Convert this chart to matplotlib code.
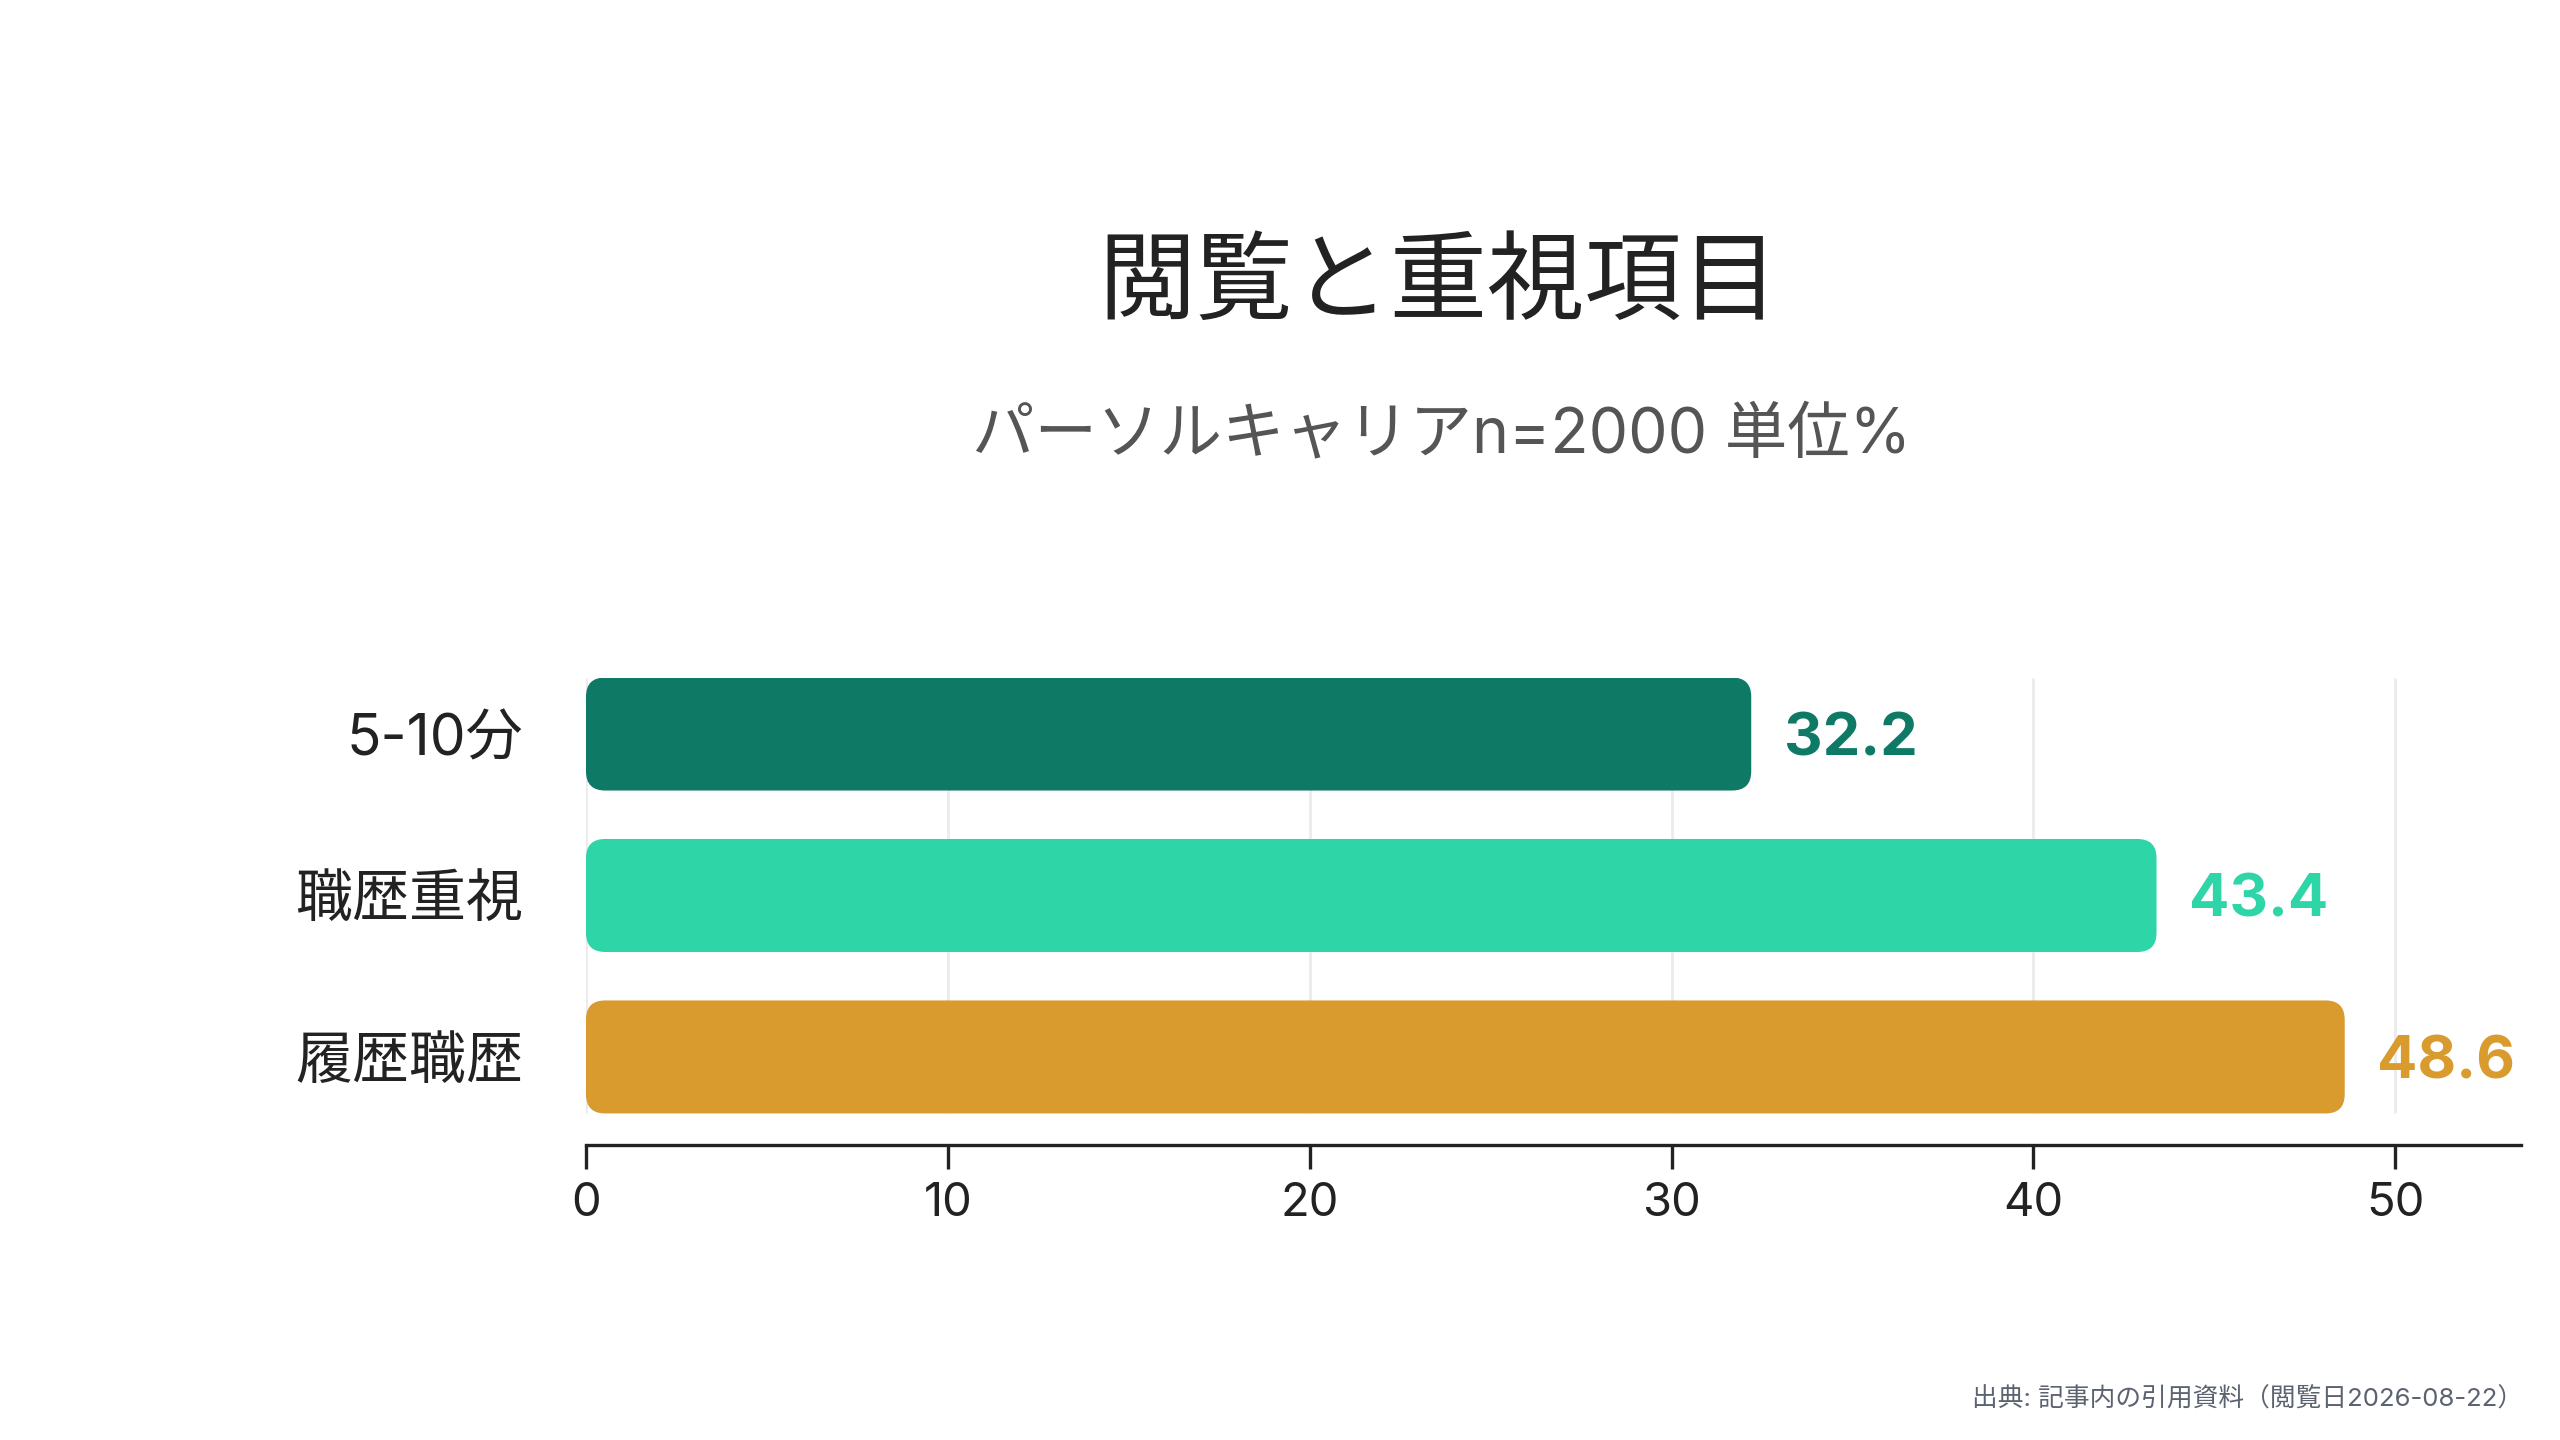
import matplotlib
matplotlib.use("Agg")
import matplotlib.pyplot as plt
from matplotlib.patches import FancyBboxPatch

FAM = ['Inter', 'Noto Sans CJK JP', 'DejaVu Sans']
plt.rcParams['font.family'] = FAM

title = "閲覧と重視項目"
subtitle = "パーソルキャリアn=2000 単位%"
source = "出典: 記事内の引用資料（閲覧日2026-08-22）"
categories = ["5-10分", "職歴重視", "履歴職歴"]
values = [32.2, 43.4, 48.6]
colors = ["#0E7A66", "#2ED5A7", "#D99A2E"]
xticks = [0, 10, 20, 30, 40, 50]

fig = plt.figure(figsize=(25.6, 14.4), dpi=100)
fig.patch.set_facecolor("white")
ax = fig.add_axes([0.2289, 0.2049, 0.9846 - 0.2289, 0.5295 - 0.2049])

ypos = list(range(len(categories)))
bars = ax.barh(ypos, values, height=0.7, color=colors)
for b, c in zip(bars, colors):
    b.set_visible(False)
    p = FancyBboxPatch((b.get_x(), b.get_y()), b.get_width(), b.get_height(),
                       boxstyle="round,pad=0,rounding_size=0.53",
                       mutation_aspect=0.224, facecolor=c, edgecolor="none", zorder=3)
    ax.add_patch(p)

ax.set_xlim(0, max(values) * 1.1)
ax.set_ylim(len(categories) - 1 + 0.545, -0.35)

y0 = bars[0].get_y()
y1 = bars[-1].get_y() + bars[-1].get_height()
ax.vlines(xticks, y1, y0, colors="#EBEBEB", linewidth=2, zorder=1)

for b, v, c in zip(bars, values, colors):
    ax.text(v + 0.9, b.get_y() + b.get_height() / 2, f"{v:.1f}", color=c,
            fontsize=43, fontweight="bold", va="center_baseline", ha="left", zorder=4)

ax.set_yticks(ypos)
ax.set_yticklabels(categories, fontsize=41, color="#222222", va="center_baseline")
ax.tick_params(axis="y", length=0, pad=45)
ax.set_xticks(xticks)
ax.set_xticklabels([str(t) for t in xticks], fontsize=34, color="#222222")
ax.tick_params(axis="x", length=17, width=2.4, color="#222222", pad=10)

for s in ["top", "right", "left"]:
    ax.spines[s].set_visible(False)
ax.spines["bottom"].set_linewidth(2.4)
ax.spines["bottom"].set_color("#222222")

fig.text(0.562, 0.801, title, fontsize=70, color="#222222", ha="center", va="center")
fig.text(0.563, 0.697, subtitle, fontsize=45, color="#555555", ha="center", va="center")
fig.text(0.9855, 0.028, source, fontsize=18.5, color="#5B6270", ha="right", va="center")

fig.savefig("out.png", dpi=100, facecolor="white")
